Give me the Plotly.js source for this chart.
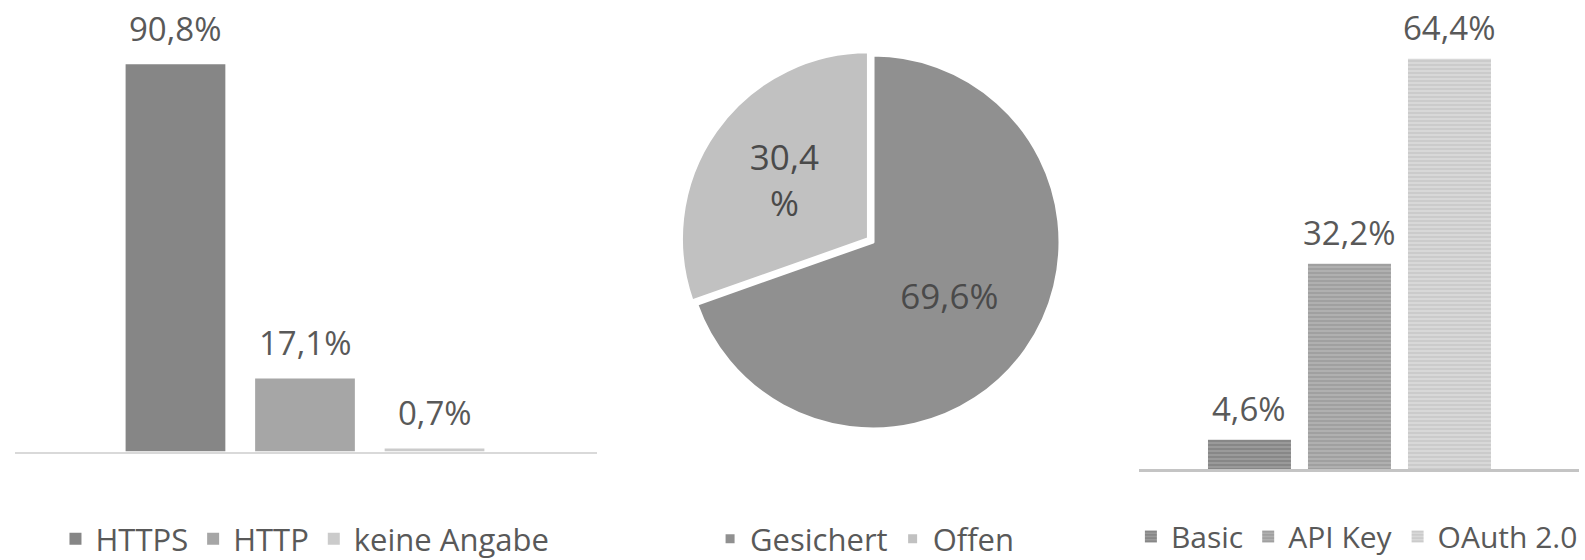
<!DOCTYPE html>
<html>
<head>
<meta charset="utf-8">
<script src="https://cdn.plot.ly/plotly-3.0.1.min.js"></script>
<style>html,body{margin:0;padding:0;background:#fff;}#chart{width:1585px;height:560px;}</style>
</head>
<body>
<div id="chart"></div>
<script>
// ---- data ----
const protoCategories = ['HTTPS', 'HTTP', 'keine Angabe'];
const protoValues = [90.8, 17.1, 0.7];
const protoColors = ['#868686', '#a6a6a6', '#cbcbcb'];

const secLabels = ['Gesichert', 'Offen'];
const secValues = [69.6, 30.4];
const secColors = ['#909090', '#c1c1c1'];
const secWrap = [false, true];

const authCategories = ['Basic', 'API Key', 'OAuth 2.0'];
const authValues = [4.6, 32.2, 64.4];
const authBg = ['#9a9a9a', '#b0b0b0', '#d8d8d8'];
const authFg = ['#7f7f7f', '#999999', '#c6c6c6'];

const fmt = v => v.toFixed(1).replace('.', ',') + '%';
const FONT = '"Open Sans", "Noto Sans", sans-serif';
const TXT = '#595959';

const traces = [];
const annotations = [];

protoCategories.forEach((c, i) => {
  traces.push({
    type: 'bar', x: [c], y: [protoValues[i]], name: c,
    xaxis: 'x', yaxis: 'y', width: 0.77,
    marker: {color: protoColors[i]},
    legend: 'legend', hoverinfo: 'none'
  });
  annotations.push({
    xref: 'x', yref: 'y', x: c, y: protoValues[i], text: fmt(protoValues[i]),
    showarrow: false, yshift: 36, yanchor: 'middle',
    font: {family: FONT, size: 33, color: TXT}
  });
});

traces.push({
  type: 'pie', labels: secLabels, values: secValues, sort: false,
  direction: 'clockwise', rotation: 0,
  marker: {colors: secColors, line: {color: '#ffffff', width: 3}},
  pull: [0, 0.03],
  text: secValues.map((v, i) => secWrap[i] ? fmt(v).replace('%', '<br>%') : fmt(v)),
  textinfo: 'text', textposition: 'inside', insidetextorientation: 'horizontal',
  insidetextfont: {family: FONT, size: 35, color: '#4a4a4a'},
  domain: {x: [0.4293, 0.6723], y: [0.2239, 0.9118]},
  legend: 'legend2', hoverinfo: 'none'
});

authCategories.forEach((c, i) => {
  traces.push({
    type: 'bar', x: [c], y: [authValues[i]], name: c,
    xaxis: 'x2', yaxis: 'y2', width: 0.83,
    marker: {color: authBg[i], pattern: {shape: '-', fgcolor: authFg[i], bgcolor: authBg[i], size: 4, solidity: 0.35}},
    legend: 'legend3', hoverinfo: 'none'
  });
  annotations.push({
    xref: 'x2', yref: 'y2', x: c, y: authValues[i], text: fmt(authValues[i]),
    showarrow: false, yshift: 31, yanchor: 'middle',
    font: {family: FONT, size: 33, color: TXT}
  });
});

const legendBase = {
  orientation: 'h', yanchor: 'middle', xanchor: 'left',
  font: {family: FONT, size: 31, color: TXT}, bgcolor: 'rgba(0,0,0,0)',
  itemclick: false, itemdoubleclick: false
};

const layout = {
  width: 1585, height: 560,
  margin: {l: 0, r: 0, t: 0, b: 0, autoexpand: false},
  paper_bgcolor: '#ffffff', plot_bgcolor: '#ffffff',
  barmode: 'overlay',
  showlegend: true,
  font: {family: FONT, color: TXT},
  xaxis: {
    domain: [0.00946, 0.3767], range: [-1.239, 3.255], type: 'category',
    categoryorder: 'array', categoryarray: protoCategories,
    showticklabels: false, showgrid: false, zeroline: false,
    showline: true, linecolor: '#d9d9d9', linewidth: 2, ticks: '', fixedrange: true
  },
  yaxis: {
    domain: [0.1937, 0.9554], range: [0, 100], anchor: 'x',
    visible: false, showgrid: false, zeroline: false, fixedrange: true
  },
  xaxis2: {
    domain: [0.7186, 0.9962], range: [-1.105, 3.295], type: 'category', anchor: 'y2',
    categoryorder: 'array', categoryarray: authCategories,
    showticklabels: false, showgrid: false, zeroline: false,
    showline: true, linecolor: '#c4c4c4', linewidth: 3, ticks: '', fixedrange: true
  },
  yaxis2: {
    domain: [0.1625, 0.9589], range: [0, 70], anchor: 'x2',
    visible: false, showgrid: false, zeroline: false, fixedrange: true
  },
  legend: Object.assign({}, legendBase, {x: 0.035, y: 0.0375}),
  legend2: Object.assign({}, legendBase, {x: 0.448, y: 0.0375}),
  legend3: Object.assign({}, legendBase, {x: 0.7135, y: 0.042, font: {family: FONT, size: 30, color: TXT}}),
  annotations: annotations
};

Plotly.newPlot('chart', traces, layout, {displayModeBar: false, staticPlot: true});
</script>
</body>
</html>
